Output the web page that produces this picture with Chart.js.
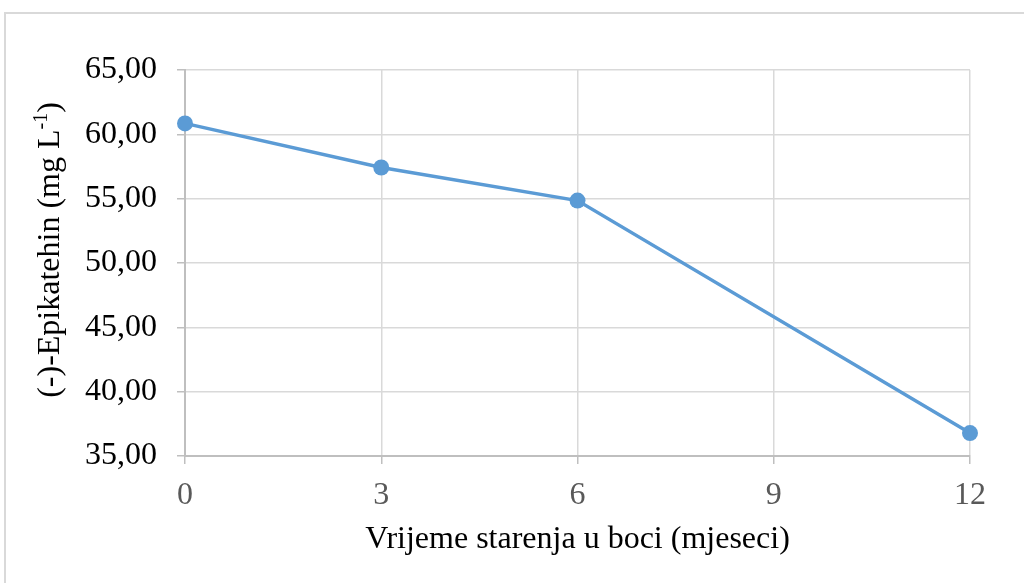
<!DOCTYPE html>
<html>
<head>
<meta charset="utf-8">
<script src="https://cdn.jsdelivr.net/npm/chart.js@4/dist/chart.umd.min.js"></script>
<style>
  html, body { margin: 0; padding: 0; background: #fff; overflow: hidden; }
  #wrap { position: relative; width: 1024px; height: 583px; }
  #frame {
    position: absolute; left: 4px; top: 12px; width: 1040px; height: 600px;
    border-left: 2px solid #d9d9d9; border-top: 2px solid #d9d9d9;
  }
  canvas { position: absolute; left: 0; top: 0; }
</style>
</head>
<body>
<div id="wrap">
  <div id="frame"></div>
  <canvas id="chart" width="1024" height="583"></canvas>
</div>
<script>
/*************************
 DATA
**************************/
const months = [0, 3, 6, 12];
const epicatechin = [60.85, 57.42, 54.85, 36.78];
const xTicks = [0, 3, 6, 9, 12];
const yTicks = [35, 40, 45, 50, 55, 60, 65];

const FONT = "'Liberation Serif', 'Times New Roman', serif";
const BLUE = "#5b9bd5";

/*************************
 Y TITLE WITH SUPERSCRIPT
**************************/
const yTitlePlugin = {
  id: "yTitle",
  afterDraw(chart) {
    const ctx = chart.ctx;
    const area = chart.chartArea;
    const main = "(-)-Epikatehin (mg L";
    const sup = "-1";
    const tail = ")";
    ctx.save();
    ctx.fillStyle = "#000";
    ctx.textBaseline = "alphabetic";
    ctx.font = "32px " + FONT;
    const w1 = ctx.measureText(main).width;
    const w3 = ctx.measureText(tail).width;
    ctx.font = "20px " + FONT;
    const w2 = ctx.measureText(sup).width;
    const total = w1 + w2 + w3;
    const cy = (area.top + area.bottom) / 2 - 13;
    ctx.translate(59, cy);
    ctx.rotate(-Math.PI / 2);
    let x = -total / 2;
    ctx.font = "32px " + FONT;
    ctx.fillText(main, x, 0);
    x += w1;
    ctx.font = "20px " + FONT;
    ctx.fillText(sup, x, -12);
    x += w2;
    ctx.font = "32px " + FONT;
    ctx.fillText(tail, x, 0);
    ctx.restore();
  }
};

/*************************
 CHART
**************************/
const ctx = document.getElementById("chart").getContext("2d");
new Chart(ctx, {
  type: "line",
  data: {
    datasets: [{
      data: months.map((m, i) => ({ x: m, y: epicatechin[i] })),
      borderColor: BLUE,
      backgroundColor: BLUE,
      borderWidth: 3.5,
      pointRadius: 8,
      pointHoverRadius: 8,
      pointBorderWidth: 0,
      tension: 0,
      clip: false
    }]
  },
  options: {
    responsive: false,
    animation: false,
    layout: { padding: { top: 70, right: 54, left: 0, bottom: 0 } },
    plugins: { legend: { display: false }, tooltip: { enabled: false } },
    scales: {
      x: {
        type: "linear",
        min: 0,
        max: 12,
        afterBuildTicks: s => { s.ticks = xTicks.map(v => ({ value: v })); },
        afterFit: s => { s.height = 127; },
        ticks: {
          color: "#595959",
          font: { family: FONT, size: 32 },
          padding: 12
        },
        grid: { color: "#d9d9d9", tickColor: "#bfbfbf", tickLength: 8, lineWidth: 1.5 },
        border: { color: "#bfbfbf", width: 2 },
        title: {
          display: true,
          text: "Vrijeme starenja u boci (mjeseci)",
          color: "#000",
          font: { family: FONT, size: 32 },
          padding: { top: 0, bottom: 24 }
        }
      },
      y: {
        min: 35,
        max: 65,
        afterBuildTicks: s => { s.ticks = yTicks.map(v => ({ value: v })); },
        afterFit: s => { s.width = 185; },
        ticks: {
          color: "#000",
          font: { family: FONT, size: 32 },
          padding: 20,
          callback: v => v.toFixed(2).replace(".", ",")
        },
        grid: { color: "#d9d9d9", tickColor: "#bfbfbf", tickLength: 8, lineWidth: 1.5 },
        border: { color: "#bfbfbf", width: 2 }
      }
    }
  },
  plugins: [yTitlePlugin]
});
</script>
</body>
</html>
